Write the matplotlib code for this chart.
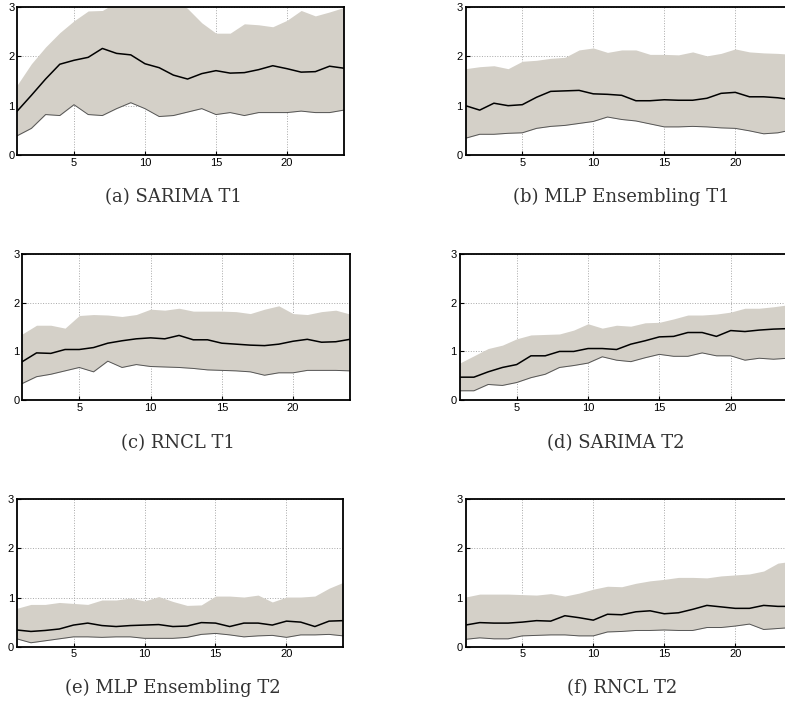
import numpy as np
import matplotlib.pyplot as plt

hours = np.arange(1, 25)

# (a) SARIMA T1
sarima_t1_mean = [0.89, 1.21, 1.54, 1.84, 1.92, 1.98, 2.16, 2.06, 2.03, 1.85, 1.77, 1.62,
                  1.54, 1.65, 1.71, 1.66, 1.67, 1.73, 1.81, 1.75, 1.68, 1.69, 1.80, 1.76]
sarima_t1_low = [0.39, 0.54, 0.82, 0.80, 1.02, 0.82, 0.80, 0.94, 1.06, 0.94, 0.78, 0.80,
                 0.87, 0.94, 0.82, 0.86, 0.80, 0.86, 0.86, 0.86, 0.89, 0.86, 0.86, 0.91]
sarima_t1_high = [1.42, 1.85, 2.19, 2.48, 2.72, 2.92, 2.93, 3.10, 3.20, 3.30, 3.30, 3.20,
                  2.97, 2.68, 2.47, 2.47, 2.66, 2.64, 2.60, 2.73, 2.93, 2.82, 2.90, 2.99]

# (b) MLP Ensembling T1
mlp_t1_mean = [1.00, 0.91, 1.05, 1.00, 1.02, 1.17, 1.29, 1.30, 1.31, 1.24, 1.23, 1.21,
               1.10, 1.10, 1.12, 1.11, 1.11, 1.15, 1.25, 1.27, 1.18, 1.18, 1.16, 1.12]
mlp_t1_low = [0.34, 0.42, 0.42, 0.44, 0.45, 0.54, 0.58, 0.60, 0.64, 0.68, 0.77, 0.72,
              0.69, 0.63, 0.57, 0.57, 0.58, 0.57, 0.55, 0.54, 0.49, 0.43, 0.45, 0.51]
mlp_t1_high = [1.75, 1.79, 1.81, 1.75, 1.90, 1.92, 1.96, 1.98, 2.13, 2.17, 2.08, 2.13,
               2.13, 2.04, 2.04, 2.03, 2.09, 2.01, 2.06, 2.15, 2.09, 2.07, 2.06, 2.04]

# (c) RNCL T1
rncl_t1_mean = [0.79, 0.97, 0.96, 1.04, 1.04, 1.08, 1.17, 1.22, 1.26, 1.28, 1.26, 1.33,
                1.24, 1.24, 1.17, 1.15, 1.13, 1.12, 1.15, 1.21, 1.25, 1.19, 1.20, 1.25]
rncl_t1_low = [0.34, 0.48, 0.53, 0.60, 0.67, 0.58, 0.80, 0.67, 0.73, 0.69, 0.68, 0.67,
               0.65, 0.62, 0.61, 0.60, 0.58, 0.51, 0.56, 0.56, 0.61, 0.61, 0.61, 0.60]
rncl_t1_high = [1.36, 1.54, 1.54, 1.48, 1.74, 1.76, 1.75, 1.72, 1.76, 1.87, 1.85, 1.89,
                1.83, 1.83, 1.83, 1.82, 1.78, 1.87, 1.94, 1.78, 1.76, 1.82, 1.85, 1.77]

# (d) SARIMA T2
sarima_t2_mean = [0.47, 0.47, 0.58, 0.67, 0.73, 0.91, 0.91, 1.00, 1.00, 1.06, 1.06, 1.04,
                  1.15, 1.22, 1.30, 1.31, 1.39, 1.39, 1.31, 1.43, 1.41, 1.44, 1.46, 1.47]
sarima_t2_low = [0.19, 0.19, 0.32, 0.30, 0.36, 0.46, 0.53, 0.67, 0.71, 0.76, 0.89, 0.82,
                 0.79, 0.87, 0.94, 0.90, 0.90, 0.97, 0.91, 0.91, 0.82, 0.86, 0.84, 0.86]
sarima_t2_high = [0.76, 0.91, 1.06, 1.13, 1.26, 1.34, 1.35, 1.36, 1.44, 1.57, 1.48, 1.54,
                  1.52, 1.59, 1.60, 1.67, 1.75, 1.75, 1.77, 1.81, 1.89, 1.89, 1.92, 1.96]

# (e) MLP Ensembling T2
mlp_t2_mean = [0.34, 0.31, 0.33, 0.36, 0.44, 0.48, 0.43, 0.41, 0.43, 0.44, 0.45, 0.41,
               0.42, 0.49, 0.48, 0.41, 0.48, 0.48, 0.44, 0.52, 0.50, 0.41, 0.52, 0.53]
mlp_t2_low = [0.16, 0.08, 0.12, 0.16, 0.20, 0.20, 0.19, 0.20, 0.20, 0.17, 0.17, 0.17,
              0.19, 0.25, 0.27, 0.24, 0.20, 0.22, 0.23, 0.19, 0.24, 0.24, 0.25, 0.22]
mlp_t2_high = [0.78, 0.86, 0.86, 0.90, 0.88, 0.86, 0.95, 0.95, 0.99, 0.93, 1.02, 0.92,
               0.84, 0.85, 1.03, 1.03, 1.01, 1.05, 0.91, 1.01, 1.01, 1.03, 1.19, 1.31]

# (f) RNCL T2
rncl_t2_mean = [0.44, 0.49, 0.48, 0.48, 0.50, 0.53, 0.52, 0.63, 0.59, 0.54, 0.66, 0.65,
                0.71, 0.73, 0.67, 0.69, 0.76, 0.84, 0.81, 0.78, 0.78, 0.84, 0.82, 0.82]
rncl_t2_low = [0.15, 0.18, 0.16, 0.16, 0.22, 0.23, 0.24, 0.24, 0.22, 0.22, 0.30, 0.31,
               0.33, 0.33, 0.34, 0.33, 0.33, 0.39, 0.39, 0.42, 0.46, 0.35, 0.37, 0.39]
rncl_t2_high = [1.01, 1.07, 1.07, 1.07, 1.06, 1.05, 1.08, 1.03, 1.09, 1.17, 1.23, 1.22,
                1.29, 1.34, 1.37, 1.41, 1.41, 1.40, 1.44, 1.46, 1.48, 1.54, 1.70, 1.74]

captions = ['(a) SARIMA T1', '(b) MLP Ensembling T1', '(c) RNCL T1',
            '(d) SARIMA T2', '(e) MLP Ensembling T2', '(f) RNCL T2']

panels = [
    (sarima_t1_mean, sarima_t1_low, sarima_t1_high),
    (mlp_t1_mean, mlp_t1_low, mlp_t1_high),
    (rncl_t1_mean, rncl_t1_low, rncl_t1_high),
    (sarima_t2_mean, sarima_t2_low, sarima_t2_high),
    (mlp_t2_mean, mlp_t2_low, mlp_t2_high),
    (rncl_t2_mean, rncl_t2_low, rncl_t2_high),
]

# axes rectangles [left, bottom, width, height]; right column runs off the page
rects = [
    [0.0219, 0.7792, 0.4160, 0.2108],
    [0.5930, 0.7792, 0.4160, 0.2108],
    [0.0284, 0.4302, 0.4175, 0.2075],
    [0.5855, 0.4302, 0.4180, 0.2075],
    [0.0213, 0.0788, 0.4160, 0.2100],
    [0.5930, 0.0788, 0.4160, 0.2100],
]
caption_pos = [(173, 197), (621, 197), (178, 443), (616, 443), (173, 688), (622, 688)]

band_color = '#d4d0c8'

fig = plt.figure(figsize=(7.85, 7.02), dpi=100)

for rect, (mean, low, high), cap, (cx, cy) in zip(rects, panels, captions, caption_pos):
    ax = fig.add_axes(rect)
    ax.fill_between(hours, low, high, color=band_color, lw=0, zorder=2)
    ax.plot(hours, low, color='#555555', lw=0.7, zorder=3)
    ax.plot(hours, mean, color='black', lw=1.1, zorder=4)
    ax.set_xlim(1, 24)
    ax.set_ylim(0, 3)
    ax.set_xticks([5, 10, 15, 20])
    ax.set_yticks([0, 1, 2, 3])
    ax.grid(True, linestyle=':', color='#a8a8a8', lw=0.7, zorder=1)
    ax.set_axisbelow(True)
    for s in ax.spines.values():
        s.set_linewidth(1.3)
        s.set_zorder(5)
    ax.tick_params(direction='in', length=3, width=0.8, pad=2, labelsize=8)
    for lab in ax.get_xticklabels() + ax.get_yticklabels():
        lab.set_family('Liberation Sans')
    fig.text(cx / 785, 1 - cy / 702, cap, ha='center', va='center',
             family='DejaVu Serif', fontsize=13, color='#333333')

fig.savefig('out.png', dpi=100)
